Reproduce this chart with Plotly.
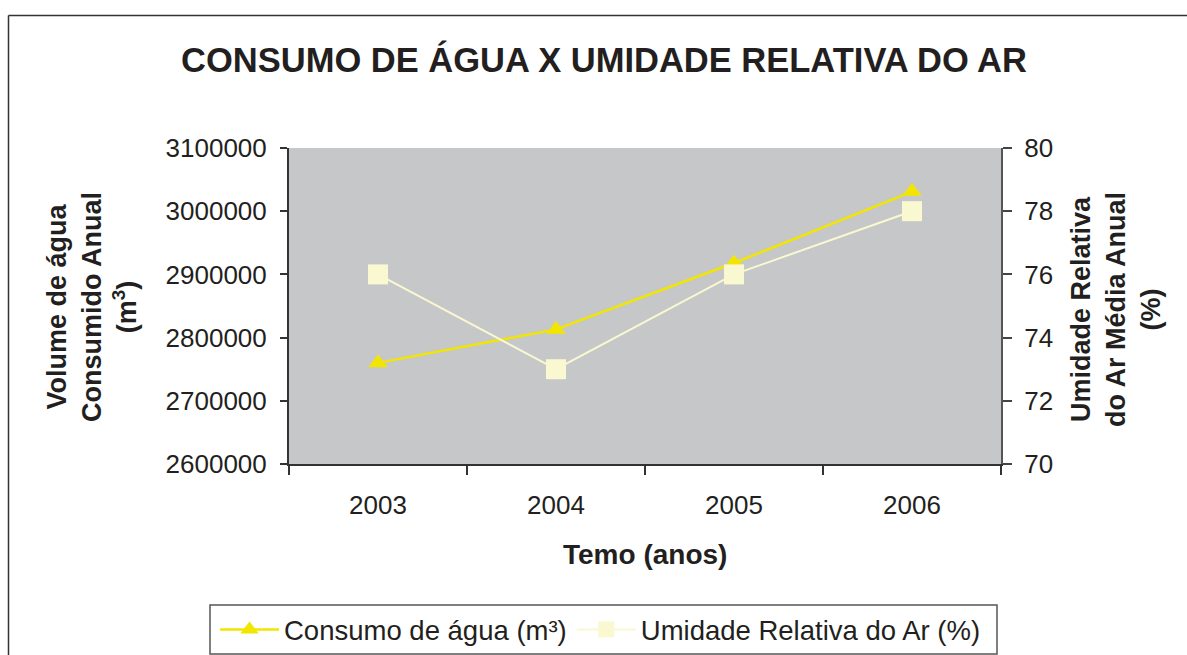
import plotly.graph_objects as go

years = ["2003", "2004", "2005", "2006"]
consumo = [2760000, 2813000, 2918000, 3031000]
umidade = [76, 73, 76, 78]

title_text = "CONSUMO DE ÁGUA X UMIDADE RELATIVA DO AR"
name_consumo = "Consumo de água (m³)"
name_umidade = "Umidade Relativa do Ar (%)"
y1_title = "Volume de água<br>Consumido Anual<br>(m<sup>3</sup>)"
y2_title = "Umidade Relativa<br>do Ar Média Anual<br>(%)"
x_title = "Temo (anos)"

W, H = 1187, 655
L, R, T, B = 289, 186, 148, 191
pw, ph = W - L - R, H - T - B

def px(xp):
    return (xp - L) / pw

def py(yp):
    return (H - B - yp) / ph

FONT = "Liberation Sans, Arial, sans-serif"
TXT = "#231F20"
YEL = "#F2E600"
CREAM = "#FAF8D0"

fig = go.Figure()
fig.add_trace(go.Scatter(
    x=years, y=consumo, name=name_consumo, mode="lines+markers",
    line=dict(color=YEL, width=2.5),
    marker=dict(symbol="triangle-up", size=17, color=YEL),
    xaxis="x", yaxis="y",
))
fig.add_trace(go.Scatter(
    x=years, y=umidade, name=name_umidade, mode="lines+markers",
    line=dict(color=CREAM, width=2),
    marker=dict(symbol="square", size=20, color=CREAM),
    xaxis="x", yaxis="y2",
))

tickfont = dict(family=FONT, size=26, color=TXT)

fig.update_layout(
    width=W, height=H,
    margin=dict(l=L, r=R, t=T, b=B, pad=0, autoexpand=False),
    paper_bgcolor="white",
    plot_bgcolor="#C6C7C9",
    font=dict(family=FONT, color=TXT),
    title=dict(text=title_text, x=604 / W, xref="container", xanchor="center",
               y=1 - 60 / H, yref="container", yanchor="middle",
               font=dict(family=FONT, size=34.5, color=TXT, weight="bold")),
    showlegend=True,
    legend=dict(orientation="h", x=px(215), xanchor="left", y=py(629.5), yanchor="middle",
                font=dict(family=FONT, size=27.5, color=TXT), itemwidth=59,
                bgcolor="rgba(0,0,0,0)", borderwidth=0),
    xaxis=dict(type="category", categoryorder="array", categoryarray=years,
               range=[-0.5, 3.5], tickson="boundaries", ticks="outside", ticklen=9,
               tickwidth=1.5, tickcolor="#333", showline=True, linecolor="#333", linewidth=2,
               showgrid=False, zeroline=False, tickfont=tickfont, ticklabelstandoff=17),
    xaxis2=dict(overlaying="x", anchor="y", side="bottom", range=[-0.5, 3.5], tick0=-0.5, dtick=1,
                ticks="inside", ticklen=9, tickwidth=1.5, tickcolor="#333",
                showticklabels=False, showline=False, showgrid=False, zeroline=False),
    xaxis3=dict(overlaying="x", anchor="y", side="top", range=[-0.5, 3.5],
                ticks="", showticklabels=False, showline=True, linecolor="#9A9A9A", linewidth=2,
                showgrid=False, zeroline=False),
    yaxis=dict(range=[2600000, 3100000], dtick=100000, tickformat="d",
               ticks="outside", ticklen=7, tickwidth=1.5, tickcolor="#333",
               showline=True, linecolor="#333", linewidth=2, showgrid=False, zeroline=False,
               tickfont=tickfont, ticklabelstandoff=8),
    yaxis2=dict(overlaying="y", side="right", anchor="x", range=[70, 80], dtick=2,
                ticks="outside", ticklen=9, tickwidth=1.5, tickcolor="#444",
                showline=True, linecolor="#555", linewidth=2, showgrid=False, zeroline=False,
                tickfont=tickfont, ticklabelstandoff=7),
    yaxis3=dict(overlaying="y", side="right", anchor="x", range=[70, 80], dtick=2,
                ticks="inside", ticklen=9, tickwidth=1.5, tickcolor="#444",
                showticklabels=False, showline=False, showgrid=False, zeroline=False),
)

fig.add_annotation(text=y1_title, textangle=-90, xref="paper", yref="paper",
                   x=px(92), y=py(307), xanchor="center", yanchor="middle",
                   showarrow=False, align="center",
                   font=dict(family=FONT, size=27, color=TXT, weight="bold"))
fig.add_annotation(text=y2_title, textangle=-90, xref="paper", yref="paper",
                   x=px(1116), y=py(310), xanchor="center", yanchor="middle",
                   showarrow=False, align="center",
                   font=dict(family=FONT, size=27, color=TXT, weight="bold"))
fig.add_annotation(text=x_title, xref="paper", yref="paper",
                   x=px(645), y=py(554), xanchor="center", yanchor="middle",
                   showarrow=False,
                   font=dict(family=FONT, size=28, color=TXT, weight="bold"))

# outer chart frame (top and left edges visible)
fig.add_shape(type="line", xref="paper", yref="paper", x0=px(8.5), x1=px(W + 20),
              y0=py(15.5), y1=py(15.5), line=dict(color="#333", width=1.5))
fig.add_shape(type="line", xref="paper", yref="paper", x0=px(8.5), x1=px(8.5),
              y0=py(15.5), y1=py(H + 20), line=dict(color="#333", width=1.5))
# legend frame
fig.add_shape(type="rect", xref="paper", yref="paper", x0=px(210), x1=px(997),
              y0=py(605), y1=py(654), line=dict(color="#555", width=1.5))

fig.write_html("out.html", config={"displayModeBar": False},
               post_script="document.body.style.margin='0';document.body.style.overflow='hidden';")
